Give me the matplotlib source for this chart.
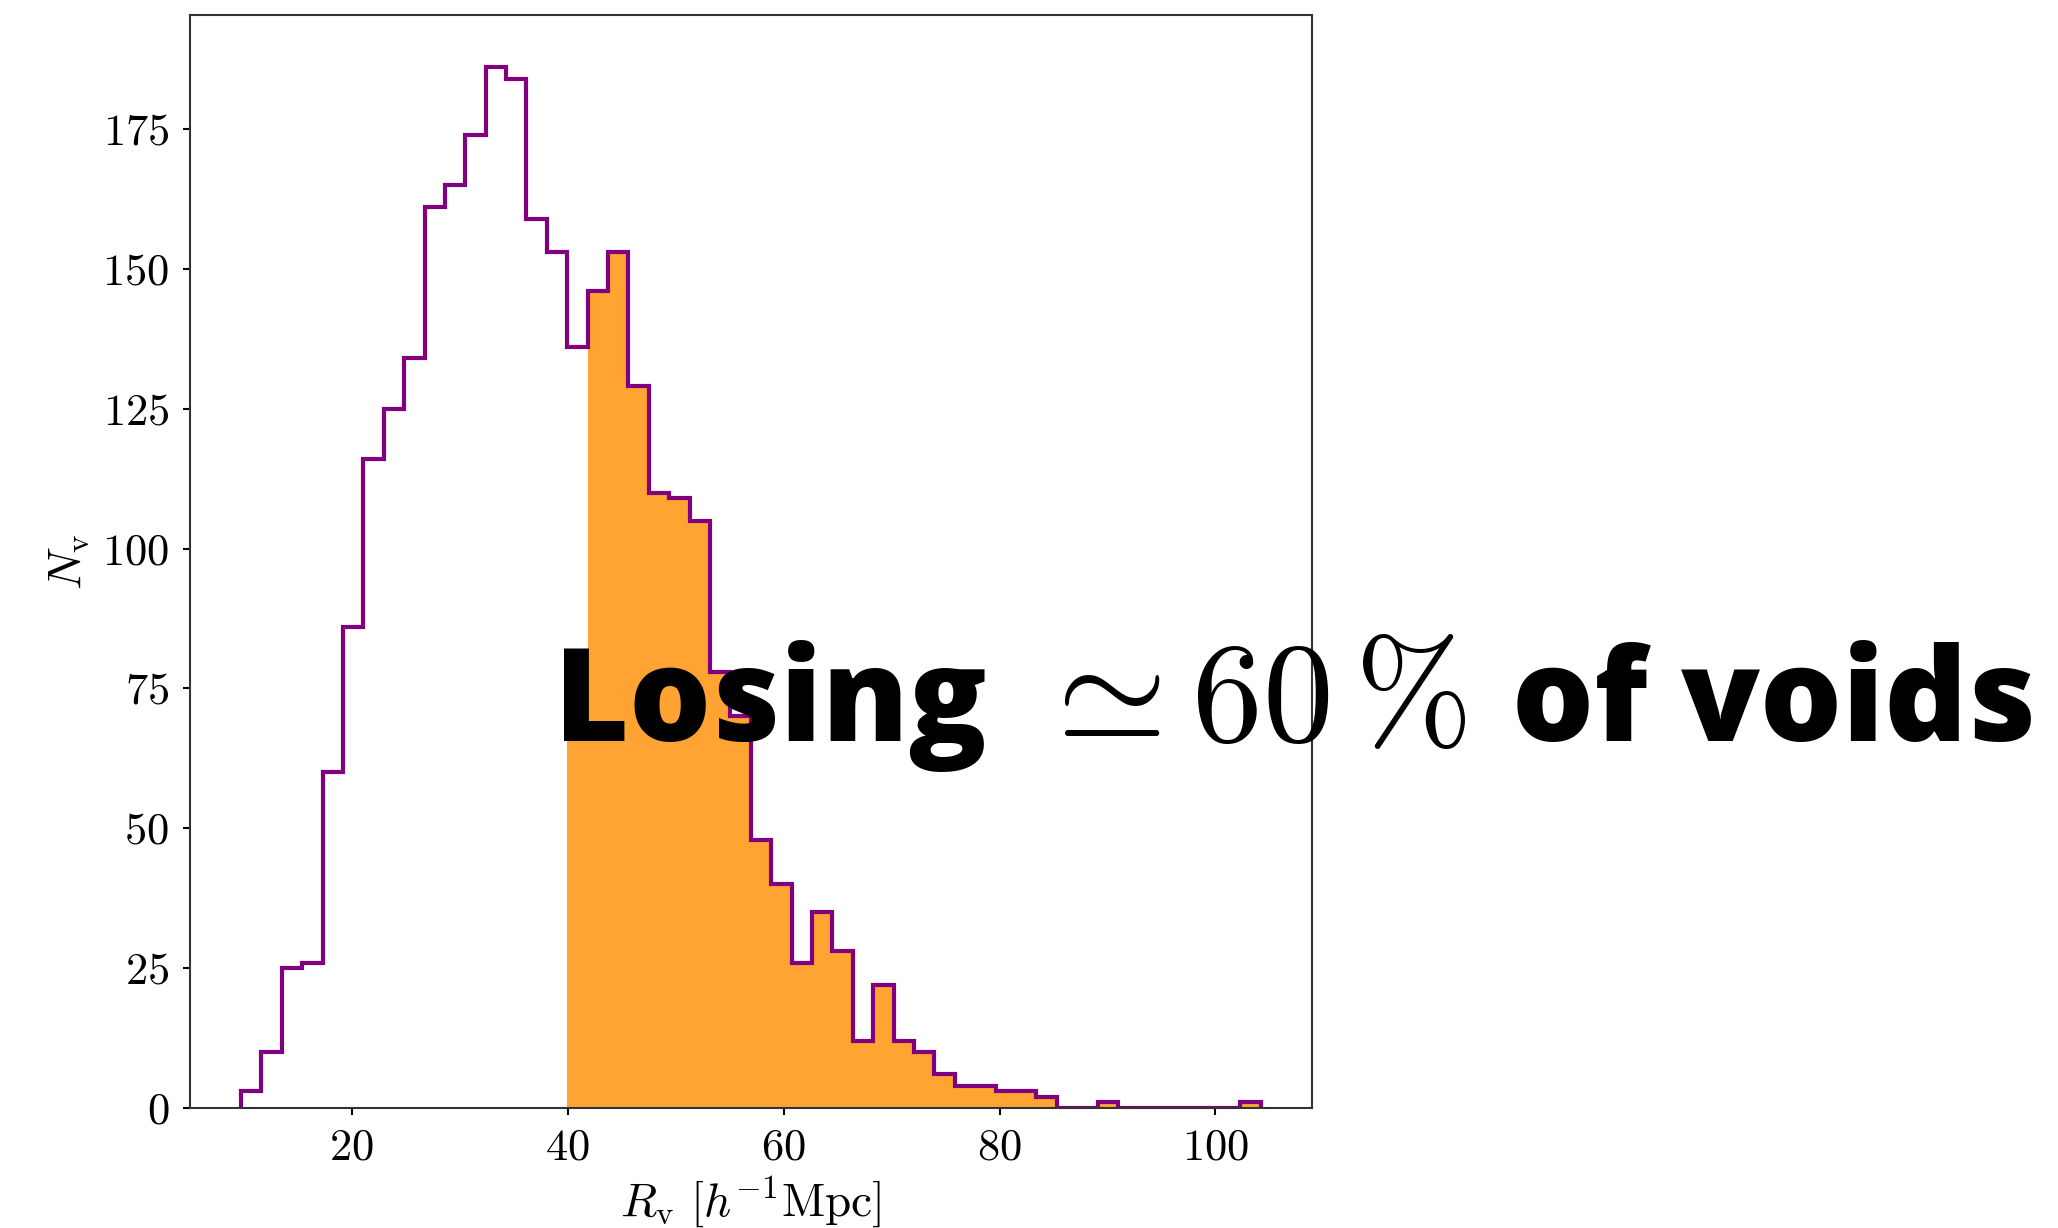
import numpy as np
import matplotlib
matplotlib.use("Agg")
import matplotlib.pyplot as plt

# void radius histogram (50 bins between r_min and r_max)
r_min, r_max = 9.74, 104.2
n_bins = 50
counts = [3, 10, 25, 26, 60, 86, 116, 125, 134, 161,
          165, 174, 186, 184, 159, 153, 136, 146, 153, 129,
          110, 109, 105, 78, 70, 48, 40, 26, 35, 28,
          12, 22, 12, 10, 6, 4, 4, 3, 3, 2,
          0, 0, 1, 0, 0, 0, 0, 0, 0, 1]
# the shaded part (voids above the cut)
cut_bin = 16
lost_counts = [78, 146, 153, 129, 110, 109, 105, 78, 70, 48,
               40, 26, 35, 28, 12, 22, 12, 10, 6, 4,
               4, 3, 3, 2, 0, 0, 1, 0, 0, 0,
               0, 0, 0, 1]

xticks = [20, 40, 60, 80, 100]
yticks = [0, 25, 50, 75, 100, 125, 150, 175]

plt.rcParams['font.family'] = 'serif'
plt.rcParams['font.serif'] = ['cmr10']
plt.rcParams['mathtext.fontset'] = 'cm'
plt.rcParams['axes.formatter.use_mathtext'] = True

edges = np.linspace(r_min, r_max, n_bins + 1)

fig = plt.figure(figsize=(20.58, 12.28), dpi=100)
ax = fig.add_axes([0.0923, 0.0977, 0.5451, 0.8897])

ax.stairs(lost_counts, edges[cut_bin:], fill=True, color='darkorange', alpha=0.8, lw=0)
ax.stairs(counts, edges, color='purple', lw=3)

ax.set_xticks(xticks)
ax.set_yticks(yticks)
ax.tick_params(labelsize=32, length=5, width=1.5, pad=10)
for s in ax.spines.values():
    s.set_linewidth(1.5)
    s.set_color('#333333')
ax.set_xlabel(r'$R_{\rm v}\ [h^{-1}{\rm Mpc}]$', fontsize=34, labelpad=4)
ax.set_ylabel(r'$N_{\rm v}$', fontsize=34, labelpad=8)

fig.text(554 / 2058, 1 - 741 / 1228, 'Losing', family=['Open Sans', 'Lato'], weight='heavy',
         fontsize=93, va='baseline', ha='left')
fig.text(1032 / 2058, 1 - 741 / 1228, r'$\simeq 60\,\%$', fontsize=102,
         va='baseline', ha='left')
fig.text(1512 / 2058, 1 - 741 / 1228, 'of voids', family=['Open Sans', 'Lato'], weight='heavy',
         fontsize=93, va='baseline', ha='left')

fig.savefig('out.png', dpi=100)
